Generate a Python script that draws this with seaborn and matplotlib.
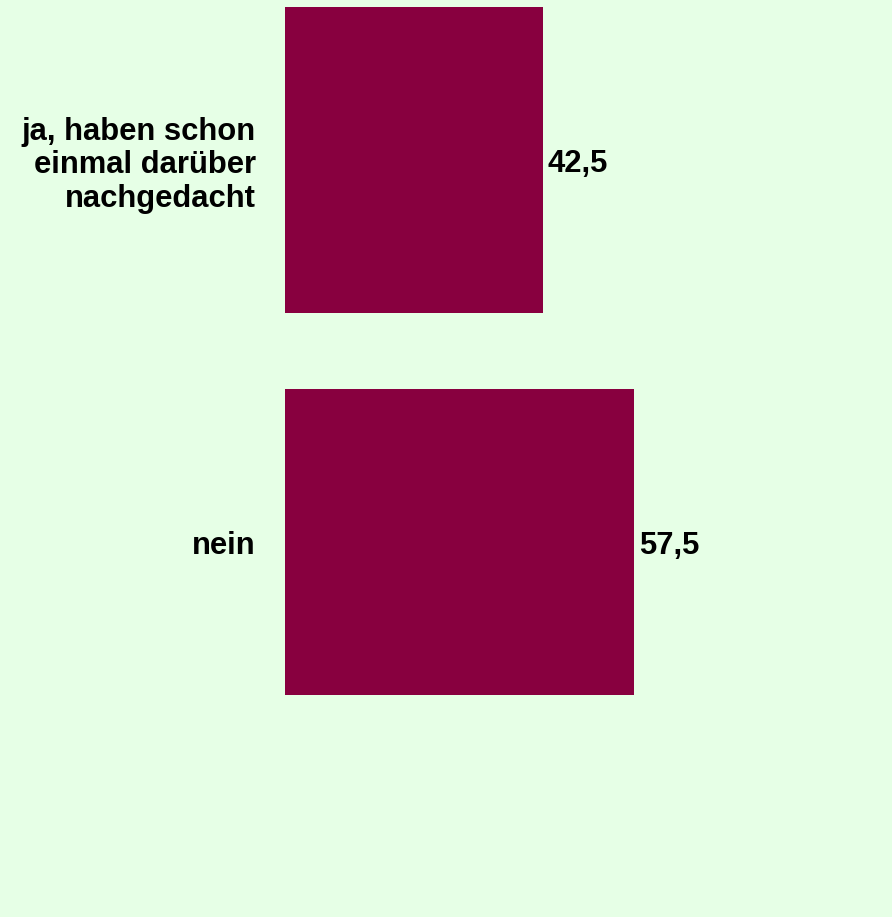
import matplotlib
matplotlib.use("Agg")
import matplotlib.pyplot as plt
import seaborn as sns
import pandas as pd

categories = ["ja, haben schon\neinmal darüber\nnachgedacht", "nein"]
values = [42.5, 57.5]
value_labels = ["42,5", "57,5"]

BG = "#E6FFE6"
BAR = "#88003F"

sns.set_theme(style="white")
plt.rcParams["font.family"] = ["Liberation Sans", "DejaVu Sans"]

df = pd.DataFrame({"cat": categories, "val": values})

fig = plt.figure(figsize=(8.92, 9.17), dpi=100, facecolor=BG)
ax = fig.add_axes([285 / 892, 0, 1 - 285 / 892, 1])
ax.set_facecolor(BG)

sns.barplot(data=df, y="cat", x="val", orient="h", color=BAR, width=0.8,
            saturation=1, linewidth=0, ax=ax)

ax.set_xlim(0, 100)
ax.set_ylim(1.98, -0.418)
ax.set_xlabel("")
ax.set_ylabel("")
ax.set_xticks([])
for s in ax.spines.values():
    s.set_visible(False)
ax.tick_params(axis="y", length=0, pad=21)
for lbl in ax.get_yticklabels():
    lbl.set_fontsize(22.3)
    lbl.set_fontweight("bold")
    lbl.set_color("black")
    lbl.set_horizontalalignment("right")
    lbl.set_multialignment("right")
    lbl.set_linespacing(1.15)

for i, (v, t) in enumerate(zip(values, value_labels)):
    ax.annotate(t, xy=(v, i), xytext=(3.5, -3), textcoords="offset points",
                va="center", ha="left", fontsize=22.3, fontweight="bold",
                color="black")

fig.savefig("out.png", dpi=100, facecolor=BG)
